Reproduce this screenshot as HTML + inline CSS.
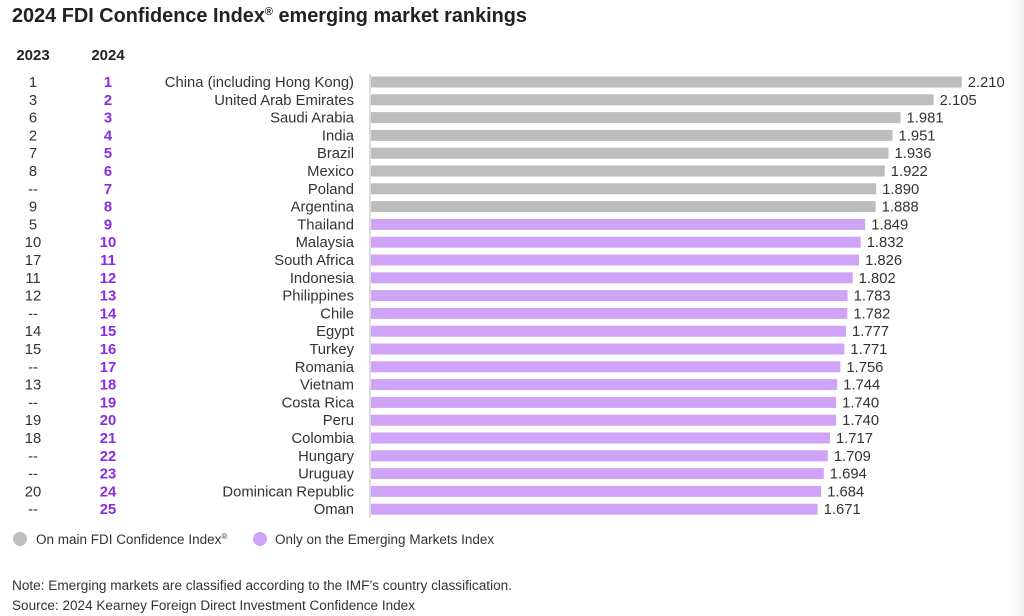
<!DOCTYPE html>
<html><head><meta charset="utf-8"><style>
html,body{margin:0;padding:0;background:#fff;}
body{width:1024px;height:616px;overflow:hidden;position:relative;font-family:"Liberation Sans",sans-serif;}
.edge{position:absolute;right:0;top:0;width:16px;height:616px;background:linear-gradient(to right,#fff,#f2f2f2);}
</style></head><body>
<div class="edge"></div>
<svg width="1024" height="616" style="position:absolute;left:0;top:0" font-family="Liberation Sans, sans-serif">
<text x="12" y="22" font-size="20" font-weight="bold" fill="#222" textLength="515" lengthAdjust="spacingAndGlyphs">2024 FDI Confidence Index<tspan font-size="11" dy="-7">®</tspan><tspan dy="7"> emerging market rankings</tspan></text>
<text x="33" y="60" font-size="15" font-weight="bold" fill="#222" text-anchor="middle">2023</text>
<text x="108" y="60" font-size="15" font-weight="bold" fill="#222" text-anchor="middle">2024</text>
<line x1="370" y1="74" x2="370" y2="518" stroke="#bbb" stroke-width="1"/>
<g id="rows" font-size="14.8"></g>
<circle cx="20" cy="539" r="7" fill="#bdbdbd"/>
<text x="36" y="544" font-size="13.5" fill="#333">On main FDI Confidence Index<tspan font-size="8" dy="-5">®</tspan></text>
<circle cx="260" cy="539" r="7" fill="#cfa3f5"/>
<text x="275" y="544" font-size="13.5" fill="#333">Only on the Emerging Markets Index</text>
<text x="12" y="590" font-size="13.5" fill="#333" textLength="500" lengthAdjust="spacingAndGlyphs">Note: Emerging markets are classified according to the IMF’s country classification.</text>
<text x="12" y="610" font-size="13.5" fill="#333" textLength="403" lengthAdjust="spacingAndGlyphs">Source: 2024 Kearney Foreign Direct Investment Confidence Index</text>
</svg>
<script>
var d=[["1","China (including Hong Kong)",2.210],["3","United Arab Emirates",2.105],["6","Saudi Arabia",1.981],["2","India",1.951],["7","Brazil",1.936],["8","Mexico",1.922],["--","Poland",1.890],["9","Argentina",1.888],["5","Thailand",1.849],["10","Malaysia",1.832],["17","South Africa",1.826],["11","Indonesia",1.802],["12","Philippines",1.783],["--","Chile",1.782],["14","Egypt",1.777],["15","Turkey",1.771],["--","Romania",1.756],["13","Vietnam",1.744],["--","Costa Rica",1.740],["19","Peru",1.740],["18","Colombia",1.717],["--","Hungary",1.709],["--","Uruguay",1.694],["20","Dominican Republic",1.684],["--","Oman",1.671]];
var g=document.getElementById("rows"),s="";
d.forEach(function(r,i){var y=82+i*17.8,b=y+5,w=r[2]*267.3;
s+='<text x="33" y="'+b+'" text-anchor="middle" fill="#333">'+r[0]+'</text>';
s+='<text x="108" y="'+b+'" text-anchor="middle" fill="#8a2be2" font-weight="bold">'+(i+1)+'</text>';
s+='<text x="354" y="'+b+'" text-anchor="end" fill="#333">'+r[1]+'</text>';
s+='<rect x="371" y="'+(y-5.5)+'" width="'+w+'" height="11" fill="'+(i<8?"#bdbdbd":"#cfa3f5")+'"/>';
s+='<text x="'+(371+w+6)+'" y="'+b+'" fill="#333">'+r[2].toFixed(3)+'</text>';});
g.innerHTML=s;
</script>
</body></html>
